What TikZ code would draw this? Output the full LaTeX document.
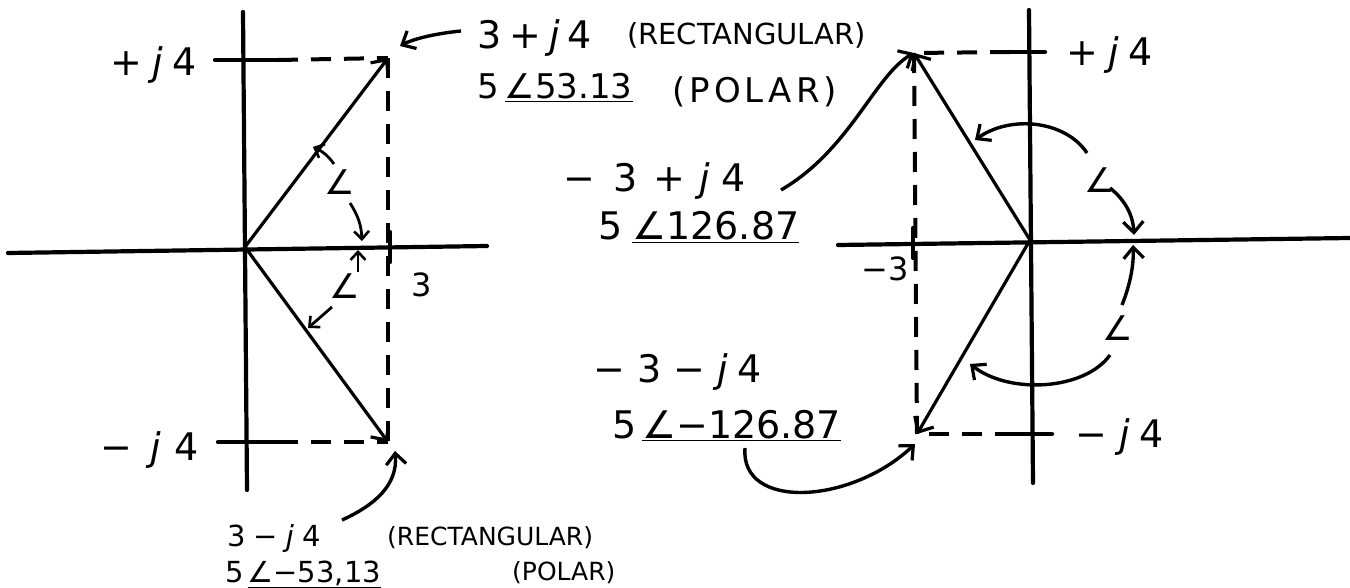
\documentclass[tikz,border=0pt]{standalone}
\usepackage{fontspec}
\setmainfont{DejaVu Sans}
\usetikzlibrary{arrows.meta}
\newcommand\gapx[1]{\hspace{#1pt}}
\tikzset{
  axis/.style={line width=4.2pt, line cap=round},
  vec/.style={line width=3.2pt, -{Straight Barb[length=12pt,width=22pt,line width=3.2pt]}},
  guide/.style={line width=4pt, dash pattern=on 20pt off 13pt},
  lead/.style={line width=3.4pt, -{Straight Barb[length=11pt,width=20pt,line width=3.2pt]}},
  small/.style={line width=2.8pt, -{Straight Barb[length=8pt,width=15pt,line width=2.6pt]}},
  big/.style={font=\fontsize{38}{40}\selectfont, inner sep=0pt},
  med/.style={font=\fontsize{34}{36}\selectfont, inner sep=0pt},
  mid/.style={font=\fontsize{32}{34}\selectfont, inner sep=0pt},
  captext/.style={font=\fontsize{29}{31}\selectfont, inner sep=0pt},
  poltext/.style={font=\fontsize{34}{36}\selectfont, inner sep=0pt},
  lo/.style={font=\fontsize{29}{31}\selectfont, inner sep=0pt},
  losm/.style={font=\fontsize{25}{27}\selectfont, inner sep=0pt},
  ang/.style={font=\fontsize{34}{36}\selectfont, inner sep=0pt}
}
\begin{document}
\begin{tikzpicture}[x=1pt,y=-1pt]
\useasboundingbox (0,0) rectangle (1350,588);
% ---------- left diagram ----------
\coordinate (O1) at (245,247);
\coordinate (P1) at (388,58);
\coordinate (Q1) at (388,442);
\coordinate (Yt1) at (243,12);
\coordinate (Yb1) at (247,490);
\coordinate (Xl1) at (8,253);
\coordinate (Xr1) at (487,246);
\coordinate (Tp1) at (215,60);
\coordinate (Tq1) at (218,442);
\coordinate (Tpe1) at (278,60);
\coordinate (Tqe1) at (278,442);
\coordinate (Tx1a) at (390,232);
\coordinate (Tx1b) at (390,262);
\draw[axis] (Yt1) -- (Yb1);
\draw[axis] (Xl1) -- (Xr1);
\draw[axis] (Tp1) -- (Tpe1);
\draw[axis] (Tq1) -- (Tqe1);
\draw[guide] (Tpe1) -- (P1);
\draw[guide] (Tqe1) -- (Q1);
\draw[guide] (P1) -- (Q1);
\draw[axis] (Tx1a) -- (Tx1b);
\draw[vec] (O1) -- (P1);
\draw[vec] (O1) -- (Q1);
\node[big, anchor=base east] (pj1) at (197,76) {+\gapx{10}\textit{j}\gapx{10}4};
\node[big, anchor=base east] (mj1) at (199,460) {−\gapx{18}\textit{j}\gapx{14}4};
\node[mid, anchor=base west] (th1) at (411,297) {3};
% angle marks left
\node[ang] (a1) at (340,182) {∠};
\node[ang] (a2) at (345,286) {∠};
\coordinate (a1s) at (334,164);
\coordinate (a1e) at (313,147);
\coordinate (a1t) at (350,203);
\coordinate (a1x) at (362,241);
\draw[small] (a1s) to[bend right=15] (a1e);
\draw[small] (a1t) to[bend left=15] (a1x);
\coordinate (a2s) at (358,272);
\coordinate (a2x) at (358,250);
\coordinate (a2t) at (332,307);
\coordinate (a2e) at (308,328);
\draw[small] (a2s) -- (a2x);
\draw[small] (a2t) -- (a2e);
% top label
\node[big, anchor=base west] (r1) at (477,49) {3\gapx{8}+\gapx{8}\textit{j}\gapx{8}4};
\node[captext, anchor=base west] (r1t) at (627,45) {(RECTANGULAR)};
\node[med, anchor=base west] (p1) at (477,99) {5\gapx{6}\underline{∠53.13}};
\node[poltext, anchor=base west] (p1t) at (672,103) {\addfontfeature{LetterSpace=12}(POLAR)};
\coordinate (l1s) at (461,31);
\draw[lead] (l1s) .. controls (440,33) and (415,38) .. (400,46);
% bottom label
\node[lo, anchor=base west] (r2) at (227,546) {3\gapx{8}−\gapx{8}\textit{j}\gapx{8}4};
\node[losm, anchor=base west] (r2t) at (387,545) {(RECTANGULAR)};
\node[lo, anchor=base west] (p2) at (225,582) {5\gapx{4}\underline{∠−53,13}};
\node[losm, anchor=base west] (p2t) at (512,580) {(POLAR)};
\coordinate (l2s) at (342,520);
\draw[lead] (l2s) .. controls (375,505) and (398,485) .. (395,451);
% ---------- right diagram ----------
\coordinate (O2) at (1030,240);
\coordinate (P2) at (914,53);
\coordinate (Q2) at (917,434);
\coordinate (Yt2) at (1029,10);
\coordinate (Yb2) at (1033,483);
\coordinate (Xl2) at (838,245);
\coordinate (Xr2) at (1350,238);
\coordinate (Tp2) at (1045,52);
\coordinate (Tq2) at (1052,434);
\coordinate (Tpe2) at (1010,52);
\coordinate (Tqe2) at (1015,434);
\coordinate (Tx2a) at (913,228);
\coordinate (Tx2b) at (913,258);
\draw[axis] (Yt2) -- (Yb2);
\draw[axis] (Xl2) -- (Xr2);
\draw[axis] (Tp2) -- (Tpe2);
\draw[axis] (Tq2) -- (Tqe2);
\draw[guide] (Tpe2) -- (P2);
\draw[guide] (Tqe2) -- (Q2);
\draw[guide] (P2) -- (Q2);
\draw[axis] (Tx2a) -- (Tx2b);
\draw[vec] (O2) -- (P2);
\draw[vec] (O2) -- (Q2);
\node[big, anchor=base west] (pj2) at (1066,66) {+\gapx{10}\textit{j}\gapx{10}4};
\node[big, anchor=base west] (mj2) at (1075,447) {−\gapx{12}\textit{j}\gapx{10}4};
\node[mid, anchor=base west] (th2) at (861,280) {−3};
% angle marks right
\node[ang] (a3) at (1100,180) {∠};
\node[ang] (a4) at (1118,328) {∠};
\coordinate (a3s) at (1087,153);
\coordinate (a3e) at (975,140);
\draw[lead] (a3s) .. controls (1065,120) and (1010,115) .. (a3e);
\coordinate (a3t) at (1110,188);
\coordinate (a3x) at (1134,235);
\draw[lead] (a3t) .. controls (1125,200) and (1133,215) .. (a3x);
\coordinate (a4s) at (1122,305);
\coordinate (a4x) at (1133,245);
\draw[lead] (a4s) .. controls (1130,285) and (1134,265) .. (a4x);
\coordinate (a4t) at (1110,355);
\coordinate (a4e) at (970,364);
\draw[lead] (a4t) .. controls (1085,390) and (1010,395) .. (a4e);
% middle labels
\node[big, anchor=base west] (r3) at (563,192) {−\gapx{18}3\gapx{16}+\gapx{14}\textit{j}\gapx{12}4};
\node[big, anchor=base west] (p3) at (598,240) {5\gapx{10}\underline{∠126.87}};
\coordinate (l3s) at (781,190);
\draw[lead] (l3s) .. controls (850,150) and (875,75) .. (P2);
\node[big, anchor=base west] (r4) at (593,382) {−\gapx{12}3\gapx{12}−\gapx{12}\textit{j}\gapx{10}4};
\node[big, anchor=base west] (p4) at (612,438) {5\gapx{6}\underline{∠−126.87}};
\coordinate (l4s) at (745,448);
\draw[lead] (l4s) .. controls (740,510) and (850,505) .. (915,444);
\end{tikzpicture}
\end{document}
